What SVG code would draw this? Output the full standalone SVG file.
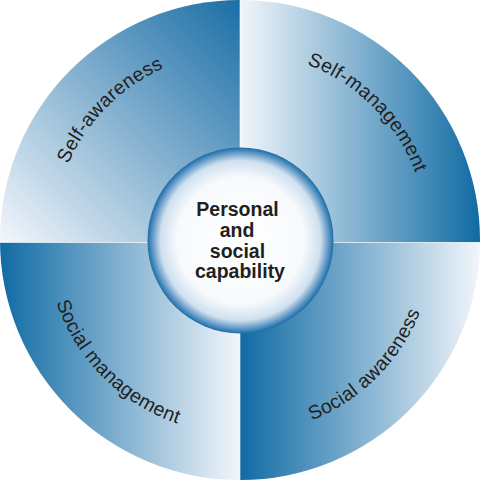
<svg xmlns="http://www.w3.org/2000/svg" xmlns:xlink="http://www.w3.org/1999/xlink" width="480" height="480" viewBox="0 0 480 480">
<style>
.lbl{font-family:"Liberation Sans",Arial,sans-serif;font-size:19.5px;fill:#231f20;letter-spacing:0.3px}
.ctr{font-family:"Liberation Sans",Arial,sans-serif;font-size:19.5px;font-weight:bold;fill:#231f20;text-anchor:middle}
.sep{stroke:#ffffff;stroke-width:1;opacity:0.6}
</style>
<defs>
<clipPath id="disc"><circle cx="240" cy="240" r="240"/></clipPath>
<linearGradient id="gTL" gradientUnits="userSpaceOnUse" x1="240" y1="0" x2="0" y2="240">
<stop offset="0" stop-color="#1a6ea6"/><stop offset="1" stop-color="#f2f6fb"/></linearGradient>
<linearGradient id="gTR" gradientUnits="userSpaceOnUse" x1="240" y1="0" x2="480" y2="0">
<stop offset="0" stop-color="#f2f6fb"/><stop offset="1" stop-color="#106ba4"/></linearGradient>
<linearGradient id="gBL" gradientUnits="userSpaceOnUse" x1="0" y1="0" x2="240" y2="0">
<stop offset="0" stop-color="#106ba4"/><stop offset="1" stop-color="#f2f6fb"/></linearGradient>
<linearGradient id="gBR" gradientUnits="userSpaceOnUse" x1="240" y1="0" x2="480" y2="0">
<stop offset="0" stop-color="#106ba4"/><stop offset="1" stop-color="#f2f6fb"/></linearGradient>
<radialGradient id="gC" cx="0.5" cy="0.5" r="0.5">
<stop offset="0" stop-color="#ffffff"/>
<stop offset="0.68" stop-color="#f7fafd"/>
<stop offset="0.86" stop-color="#cfe0ef"/>
<stop offset="0.95" stop-color="#5d95c5"/>
<stop offset="1" stop-color="#1a6ea6"/>
</radialGradient>
<path id="pTL" d="M 52 240 A 188 188 0 0 1 240 52"/>
<path id="pTR" d="M 240 52 A 188 188 0 0 1 428 240"/>
<path id="pBL" d="M 46 240 A 194 194 0 0 0 240 434"/>
<path id="pBR" d="M 240 434 A 194 194 0 0 0 434 240"/>
</defs>
<g id="quadrants" clip-path="url(#disc)">
<rect id="q-tl" x="0" y="0" width="240" height="242.5" fill="url(#gTL)"/>
<rect id="q-tr" x="240" y="0" width="240" height="242.5" fill="url(#gTR)"/>
<rect id="q-bl" x="0" y="242.5" width="240" height="237.5" fill="url(#gBL)"/>
<rect id="q-br" x="240" y="242.5" width="240" height="237.5" fill="url(#gBR)"/>
<line class="sep" x1="240" y1="0" x2="240" y2="480"/>
<line class="sep" x1="0" y1="242.5" x2="480" y2="242.5"/>
</g>
<g id="labels">
<text class="lbl"><textPath xlink:href="#pTL" startOffset="50%" text-anchor="middle">Self-awareness</textPath></text>
<text class="lbl"><textPath xlink:href="#pTR" startOffset="50%" text-anchor="middle">Self-management</textPath></text>
<text class="lbl"><textPath xlink:href="#pBL" startOffset="50%" text-anchor="middle">Social management</textPath></text>
<text class="lbl"><textPath xlink:href="#pBR" startOffset="50%" text-anchor="middle">Social awareness</textPath></text>
</g>
<g id="center">
<circle cx="240.5" cy="240.5" r="93" fill="url(#gC)"/>
<text class="ctr" x="237.5" y="216">Personal</text>
<text class="ctr" x="237" y="237">and</text>
<text class="ctr" x="237.5" y="257.5">social</text>
<text class="ctr" x="240" y="277.5">capability</text>
</g>
</svg>
